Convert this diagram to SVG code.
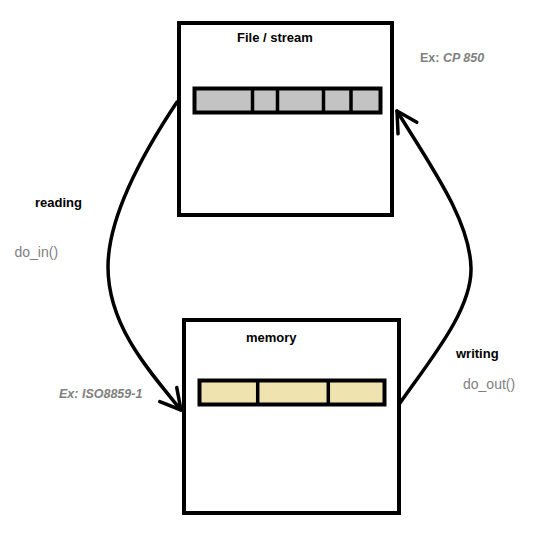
<svg xmlns="http://www.w3.org/2000/svg" width="557" height="548" viewBox="0 0 557 548">
<style>
.box{fill:#fff;stroke:#000;stroke-width:4}
.bar{stroke:#000;stroke-width:4}
.div{stroke:#000;stroke-width:3.5}
.conn{fill:none;stroke:#000;stroke-width:3.5;stroke-linecap:round}
.lbl{font-family:"Liberation Sans",Arial,sans-serif;font-weight:bold;font-size:13px;fill:#000}
.fn{font-family:"Liberation Sans",Arial,sans-serif;font-size:14px;fill:#7f7f7f}
.ex{font-family:"Liberation Sans",Arial,sans-serif;font-weight:bold;font-size:12.5px;fill:#7f7f7f}
</style>
<defs>
<marker id="arr" markerUnits="userSpaceOnUse" markerWidth="40" markerHeight="40" refX="0" refY="0" viewBox="-25 -20 30 40" orient="auto" overflow="visible">
<path d="M-20,-11 L0,0 L-20,11" fill="none" stroke="#000" stroke-width="3.5" stroke-linecap="round" stroke-linejoin="round"/>
</marker>
</defs>
<rect width="557" height="548" fill="#fff"/>
<g id="file-stream">
<rect class="box" x="179" y="23" width="213" height="192"/>
<rect class="bar" x="194.5" y="88.5" width="186" height="24" fill="#c3c3c3"/>
<line class="div" x1="252.5" y1="88.5" x2="252.5" y2="112.5"/>
<line class="div" x1="277.5" y1="88.5" x2="277.5" y2="112.5"/>
<line class="div" x1="323.5" y1="88.5" x2="323.5" y2="112.5"/>
<line class="div" x1="351" y1="88.5" x2="351" y2="112.5"/>
<text class="lbl" x="237" y="42">File / stream</text>
</g>
<g id="memory">
<rect class="box" x="184" y="320" width="215" height="193"/>
<rect class="bar" x="199.5" y="380.5" width="185" height="24" fill="#efe4b0"/>
<line class="div" x1="257.7" y1="380.5" x2="257.7" y2="404.5"/>
<line class="div" x1="328.3" y1="380.5" x2="328.3" y2="404.5"/>
<text class="lbl" x="246" y="342">memory</text>
</g>
<g id="connectors">
<path class="conn" d="M177,102 C145,150 108,215 108,267 C108,325 148,370 181,410" marker-end="url(#arr)"/>
<path class="conn" d="M400,403 C430,360 472,310 471,268 C470,220 430,165 397,111" marker-end="url(#arr)"/>
</g>
<g id="labels">
<text class="lbl" x="35" y="207">reading</text>
<text class="fn" x="14.5" y="257">do_in()</text>
<text class="ex" x="59" y="398" font-style="italic">Ex: ISO8859-1</text>
<text class="lbl" x="456" y="358">writing</text>
<text class="fn" x="463" y="389">do_out()</text>
<text class="ex" x="420" y="62">Ex: <tspan font-style="italic">CP 850</tspan></text>
</g>
</svg>
